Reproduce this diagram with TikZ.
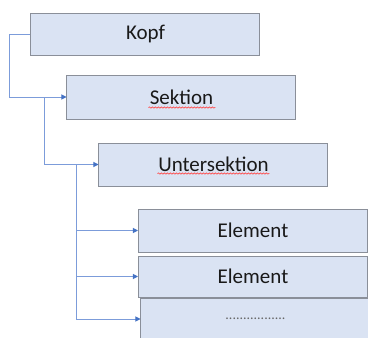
\documentclass[tikz,border=0pt]{standalone}
\usepackage{fontspec}
\setmainfont{Carlito}
\usetikzlibrary{arrows.meta,decorations.pathmorphing}
\definecolor{boxfill}{HTML}{DAE3F3}
\definecolor{boxline}{HTML}{8A8F99}
\definecolor{conncol}{HTML}{7C9CDA}
\definecolor{tipcol}{HTML}{4472C4}
\begin{document}
\begin{tikzpicture}[x=1pt,y=-1pt,
  box/.style={draw=boxline,line width=1pt,fill=boxfill,minimum width=229pt,inner sep=0pt,
    font=\fontsize{21}{25}\selectfont,text=black!90},
  conn/.style={draw=conncol,line width=1pt,-{Triangle[length=5pt,width=5pt,color=tipcol]}},
  squig/.style={draw=red!70,line width=0.7pt,decorate,decoration={snake,amplitude=0.6pt,segment length=3pt}}]
\useasboundingbox (0,0) rectangle (368,338);
\node[box,minimum height=42pt] (kopf) at (145.5,34) {Kopf};
\node[box,minimum height=44pt] (sektion) at (181.5,97) {Sektion};
\node[box,minimum height=43pt] (unter) at (213.5,164.5) {Untersektion};
\node[box,minimum height=43pt] (e1) at (253,230.5) {Element};
\node[box,minimum height=41pt] (e2) at (253,276.5) {Element};
\node[box,minimum height=42pt,font=\fontsize{14}{16}\selectfont,text=black!60] (e3) at (255.5,319) {.................};
\draw[squig] ([xshift=-33pt,yshift=-10.5pt]sektion.center) -- ++(67,0);
\draw[squig] ([xshift=-56pt,yshift=-9pt]unter.center) -- ++(112,0);
\coordinate (j1) at (45,97);
\coordinate (j2) at (77,164.5);
\draw[conn] (kopf.west) -- ++(-21,0) |- (sektion.west);
\draw[conn] (j1) |- (unter.west);
\draw[conn] (j2) |- (e1.west);
\draw[conn] (j2) |- (e2.west);
\draw[conn] (j2) |- (e3.west);
\end{tikzpicture}
\end{document}
